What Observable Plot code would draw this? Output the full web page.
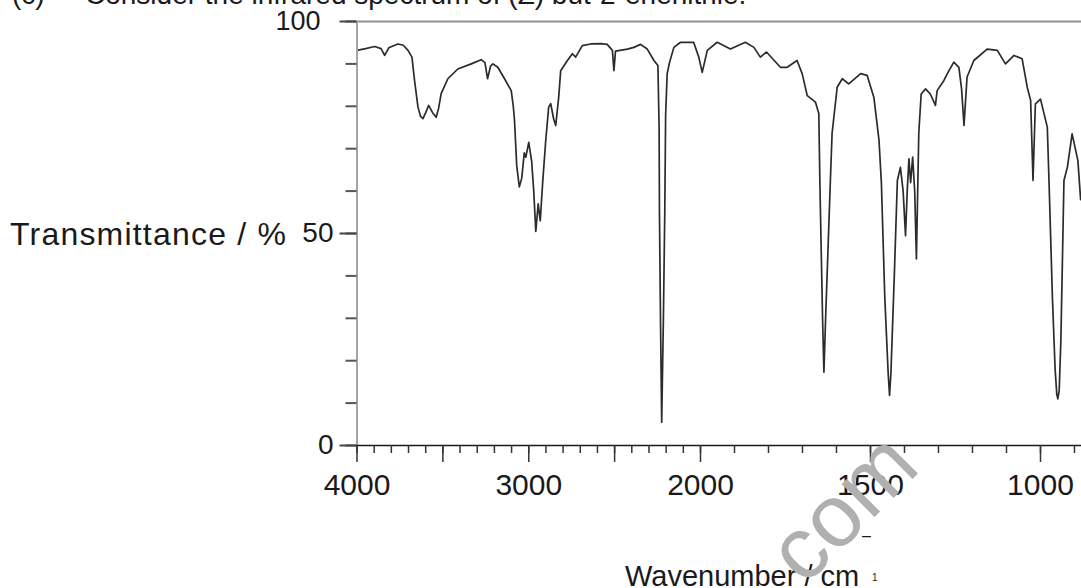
<!DOCTYPE html>
<html><head><meta charset="utf-8">
<script src="https://cdn.jsdelivr.net/npm/d3@7"></script>
<script src="https://cdn.jsdelivr.net/npm/@observablehq/plot@0.6"></script>
<style>
body{margin:0;background:#fff;}
#wrap{position:relative;width:1081px;height:588px;overflow:hidden;font-family:"Liberation Sans",Arial,sans-serif;color:#1a1a1a;}
.t{position:absolute;white-space:nowrap;line-height:1;}
</style></head><body>
<div id="wrap">
  <div id="chart"></div>
  <div class="t" style="left:12px;top:-19px;font-size:28px">(c)</div>
  <div class="t" style="left:85px;top:-19px;font-size:28px">Consider the infrared spectrum of (Z) but-2-enenitrile.</div>
  <div class="t" style="left:10px;top:217.5px;font-size:32px;letter-spacing:1.2px">Transmittance / %</div>
  <div class="t" style="left:625px;top:561.5px;font-size:29px">Wavenumber / cm</div>
  <div class="t" style="left:862px;top:528px;font-size:16px">–</div>
  <div class="t" style="left:872px;top:573px;font-size:10px">1</div>
  <div class="t" style="left:842px;top:507px;font-size:88px;color:#b0b0b0;transform:translate(-50%,-50%) rotate(-45deg);">com</div>
</div>
<script>
// Infrared spectrum
const wavenumber = [4000,3950,3897,3860,3839,3815,3762,3730,3703,3680,3665,3645,3630,3616,3600,3583,3560,3539,3525,3510,3471,3413,3335,3277,3255,3240,3222,3209,3180,3141,3102,3090,3083,3070,3055,3041,3026,3017,3000,2983,2971,2959,2945,2933,2919,2901,2884,2872,2855,2843,2826,2814,2775,2746,2727,2688,2640,2580,2543,2513,2504,2495,2426,2388,2349,2310,2271,2248,2241,2239,2233,2226,2216,2208,2203,2194,2180,2155,2116,2040,2010,1995,1980,1951,1912,1868,1843,1824,1806,1765,1745,1716,1701,1686,1662,1652,1649,1641,1637,1632,1618,1613,1598,1583,1564,1529,1510,1490,1475,1468,1458,1448,1444,1440,1430,1421,1412,1404,1397,1392,1387,1382,1376,1370,1365,1358,1351,1338,1324,1309,1304,1284,1274,1255,1240,1232,1225,1216,1196,1157,1127,1103,1078,1054,1039,1029,1022,1015,1000,980,975,965,957,952,949,945,940,931,921,907,890,882];
const transmittance = [93.2,93.6,94.1,93.6,92.0,93.8,94.7,94.4,93.2,91.6,86.1,79.8,77.6,77.1,78.5,80.2,78.5,77.4,79.5,83,86.5,88.8,90,91,90.3,86.5,89.5,90,89.2,86.5,83.7,80,76.7,66,61,63,69,68,71.5,67,60,50.5,57,53,62,72,79.8,80.6,77,75.5,82,88.4,90.8,92.4,91.6,94.3,94.7,94.8,94.6,93.2,88.4,93.0,93.5,93.9,94.6,93.5,90.8,89.6,75,55,30,5.5,30,55,78,87.7,90.4,93.9,95.1,95.1,91.6,88,93.2,95.1,93.5,95.1,93.9,91.6,92.8,89.2,89.2,90.8,87.7,82.5,81,78.3,62.5,30,17.3,30,62.5,73.6,84.5,86.5,85.3,87.7,87.3,82.1,72,62,35,17,11.8,17,40,62.5,65.6,60,49.5,60,67.6,62,68,60,44,73.6,82.9,84.1,82.9,80.2,83.7,86.1,87.7,90.4,89.2,84,75.5,86.9,90.8,93.5,93.2,90,92,91.2,84.5,81.4,62.5,80.6,81.7,75.1,62.5,35,18,12,11,13,25,62.5,65.6,73.5,67.2,58];

const xMajor = [4000,3500,3000,2500,2000,1500,1000];
const xLabels = [4000,3000,2000,1500,1000];
const xMinor = d3.range(4000, 899, -100);
const yMinor = d3.range(0, 101, 10);
const yMajor = [0,50,100];

const data = wavenumber.map((w,i) => ({w, t: transmittance[i]}));
const font = '"Liberation Sans", Arial, sans-serif';
const blank = () => "";

const chart = Plot.plot({
  width: 1081, height: 588,
  marginLeft: 356.5, marginRight: 0, marginTop: 21, marginBottom: 143,
  style: {fontFamily: font, background: "#fff", color: "#1a1a1a", overflow: "visible"},
  x: {type: "linear", domain: [4000, 2000, 879.4], range: [356.5, 700, 1081], label: null},
  y: {domain: [0, 100], label: null},
  marks: [
    Plot.line(data, {x: "w", y: "t", stroke: "#2b2b2b", strokeWidth: 1.7, clip: true}),
    Plot.ruleY([100], {stroke: "#8f8f8f", strokeWidth: 2}),
    Plot.ruleX([4000], {stroke: "#a5a5a5", strokeWidth: 2}),
    Plot.axisY({ticks: yMinor, tickSize: 11, tickFormat: blank, stroke: "#555", strokeWidth: 2, label: null}),
    Plot.axisY({ticks: yMajor, tickSize: 17, tickFormat: blank, stroke: "#444", strokeWidth: 2, label: null}),
    Plot.axisY({ticks: [100], tickSize: 0, tickPadding: 36.5, fontSize: 27, fill: "#1a1a1a", label: null}),
    Plot.axisY({ticks: [0, 50], tickSize: 0, tickPadding: 23.5, fontSize: 28, fill: "#1a1a1a", label: null}),
    Plot.ruleY([0], {stroke: "#1a1a1a", strokeWidth: 1.6}),
    Plot.axisX({ticks: xMinor, tickSize: 8, tickFormat: blank, stroke: "#333", strokeWidth: 1.5, label: null}),
    Plot.axisX({ticks: xMajor, tickSize: 17, tickFormat: blank, stroke: "#333", strokeWidth: 1.5, label: null}),
    Plot.axisX({ticks: xLabels, tickSize: 0, tickPadding: 28, fontSize: 30, fill: "#1a1a1a", tickFormat: d => String(d), label: null})
  ]
});
document.getElementById("chart").appendChild(chart);
</script>
</body></html>
